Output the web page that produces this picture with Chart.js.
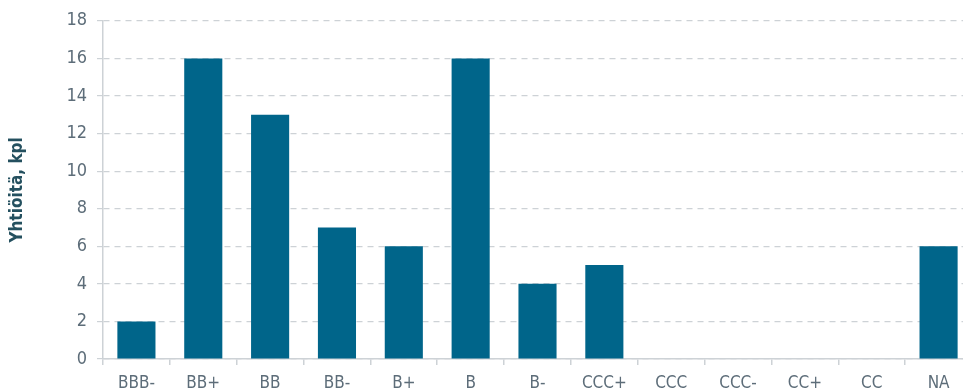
<!DOCTYPE html>
<html>
<head>
<meta charset="utf-8">
<script src="https://cdn.jsdelivr.net/npm/chart.js@4/dist/chart.umd.min.js"></script>
<style>
  html, body { margin: 0; padding: 0; background: #fff; overflow: hidden; }
  #wrap { width: 972px; height: 390px; position: relative; }
</style>
</head>
<body>
<div id="wrap"><canvas id="chart"></canvas></div>
<script>
const categories = ["BBB-", "BB+", "BB", "BB-", "B+", "B", "B-", "CCC+", "CCC", "CCC-", "CC+", "CC", "NA"];
const companies = [2, 16, 13, 7, 6, 16, 4, 5, 0, 0, 0, 0, 6];
const yTicks = { min: 0, max: 18, step: 2 };
const yTitle = "Yhtiöitä, kpl";

const fontFamily = "'Liberation Sans Narrow', 'DejaVu Sans Condensed', 'Roboto', sans-serif";
const tickColor = "#5d6d79";
const barColor = "#00658a";
const gridColor = "#cdd2d6";

new Chart(document.getElementById("chart"), {
  type: "bar",
  data: {
    labels: categories,
    datasets: [
      {
        label: yTitle,
        data: companies,
        backgroundColor: barColor,
        barPercentage: 0.57,
        categoryPercentage: 1,
      },
    ],
  },
  options: {
    responsive: true,
    maintainAspectRatio: false,
    animation: false,
    layout: { padding: { top: 20, right: 0, bottom: 0, left: 0 } },
    plugins: {
      legend: { display: false },
      tooltip: { enabled: false },
    },
    scales: {
      x: {
        offset: true,
        grid: {
          offset: true,
          drawOnChartArea: false,
          drawTicks: true,
          tickLength: 6,
          color: gridColor,
          lineWidth: 1.5,
        },
        border: { color: gridColor, width: 1.5 },
        ticks: {
          color: tickColor,
          font: { family: fontFamily, size: 17 },
          padding: 8,
          maxRotation: 0,
          autoSkip: false,
        },
        afterFit: (scale) => {
          scale.height = 31;
        },
      },
      y: {
        min: yTicks.min,
        max: yTicks.max,
        ticks: {
          stepSize: yTicks.step,
          color: tickColor,
          font: { family: fontFamily, size: 18 },
          padding: 10,
        },
        grid: {
          color: gridColor,
          lineWidth: 1.2,
          tickLength: 6,
          tickBorderDash: [],
          drawTicks: true,
        },
        border: { color: gridColor, width: 1.5, dash: [6, 5] },
        title: {
          display: true,
          text: yTitle,
          color: "#24505f",
          font: { family: fontFamily, size: 17, weight: "bold" },
          padding: { top: 7, bottom: 0 },
        },
        afterFit: (scale) => {
          scale.width = 103;
        },
      },
    },
  },
});
</script>
</body>
</html>
